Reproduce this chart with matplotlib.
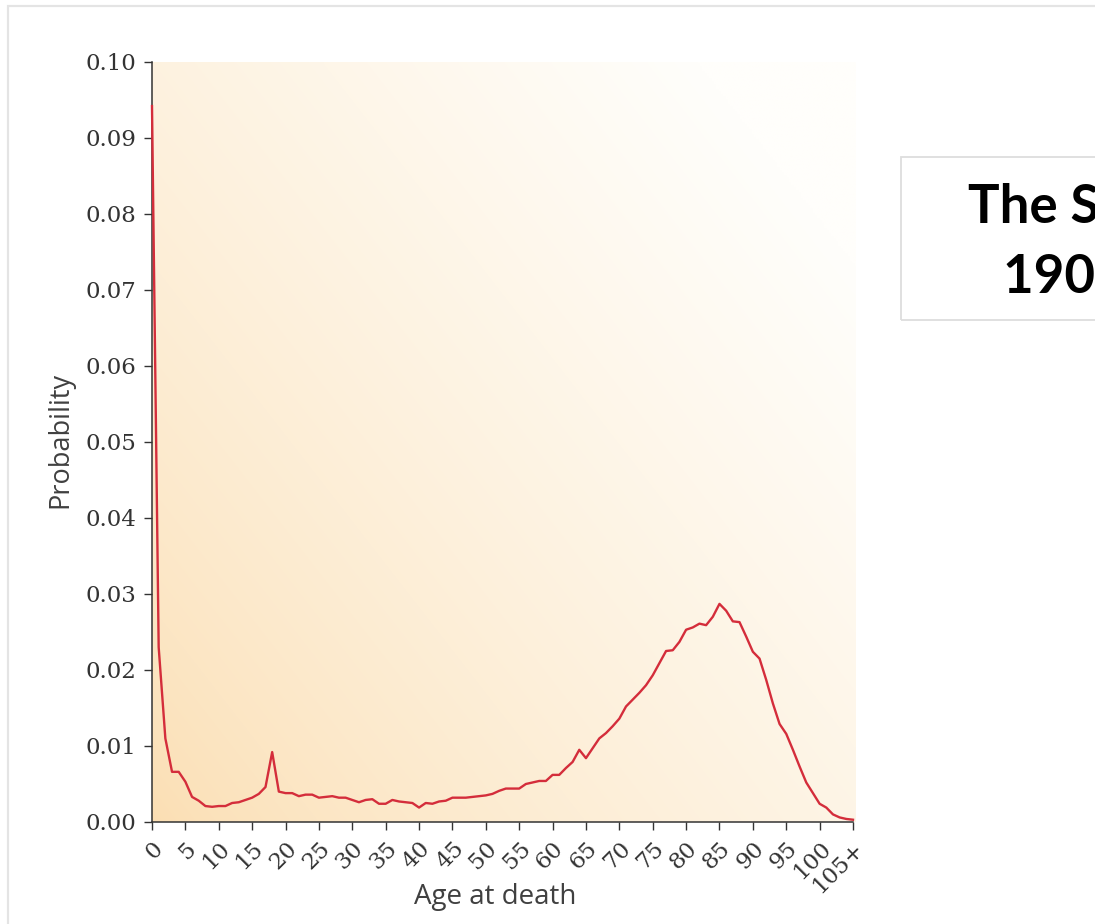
import numpy as np
import matplotlib
matplotlib.use("Agg")
import matplotlib.pyplot as plt
from matplotlib.patches import Rectangle

# ---- data ----
ages = list(range(0, 106))
probability = [
    0.0942, 0.0230, 0.0110, 0.0066, 0.0066, 0.0053, 0.0033, 0.0028, 0.0021, 0.0020,
    0.0021, 0.0021, 0.0025, 0.0026, 0.0029, 0.0032, 0.0037, 0.0046, 0.0092, 0.0040,
    0.0038, 0.0038, 0.0034, 0.0036, 0.0036, 0.0032, 0.0033, 0.0034, 0.0032, 0.0032,
    0.0029, 0.0026, 0.0029, 0.0030, 0.0024, 0.0024, 0.0029, 0.0027, 0.0026, 0.0025,
    0.0019, 0.0025, 0.0024, 0.0027, 0.0028, 0.0032, 0.0032, 0.0032, 0.0033, 0.0034,
    0.0035, 0.0037, 0.0041, 0.0044, 0.0044, 0.0044, 0.0050, 0.0052, 0.0054, 0.0054,
    0.0062, 0.0062, 0.0071, 0.0079, 0.0095, 0.0084, 0.0097, 0.0110, 0.0117, 0.0126,
    0.0136, 0.0152, 0.0161, 0.0170, 0.0180, 0.0193, 0.0209, 0.0225, 0.0226, 0.0237,
    0.0253, 0.0256, 0.0261, 0.0259, 0.0270, 0.0287, 0.0278, 0.0264, 0.0263, 0.0244,
    0.0224, 0.0215, 0.0187, 0.0156, 0.0129, 0.0116, 0.0095, 0.0073, 0.0052, 0.0038,
    0.0024, 0.0019, 0.0010, 0.0006, 0.0004, 0.0003,
]
x_ticks = list(range(0, 106, 5))
x_tick_labels = [str(v) for v in range(0, 105, 5)] + ["105+"]
y_ticks = [0.00, 0.01, 0.02, 0.03, 0.04, 0.05, 0.06, 0.07, 0.08, 0.09, 0.10]
y_tick_labels = ["%.2f" % v for v in y_ticks]
box_line1 = "The Starting Point"
box_line2 = "1900 United States"

W, H = 1095, 924
fig = plt.figure(figsize=(W / 100, H / 100), dpi=100)
fig.patch.set_facecolor("white")

def fx(px):
    return px / W

def fy(py):
    return 1 - py / H

# outer frame
fig.patches.append(Rectangle((fx(8), fy(1000)), fx(1200), (1000 - 6) / H,
                             transform=fig.transFigure, fill=False,
                             edgecolor="#e4e4e4", linewidth=1.6, zorder=0))

ax_l, ax_r, ax_t, ax_b = 152, 853, 62, 822
ax = fig.add_axes([fx(ax_l), fy(ax_b), (ax_r - ax_l) / W, (ax_b - ax_t) / H])

# gradient background
n = 300
gx, gy = np.meshgrid(np.linspace(0, 1, n), np.linspace(0, 1, n))
t = np.clip(0.62 * gx + 0.52 * gy, 0, 1) ** 0.72
c0 = np.array([251, 222, 178]) / 255.0
c1 = np.array([255, 254, 251]) / 255.0
img = c0[None, None, :] * (1 - t[..., None]) + c1[None, None, :] * t[..., None]
ax.imshow(img, extent=[0, 105.3, 0, 0.1], origin="lower", aspect="auto",
          zorder=0, interpolation="bilinear", clip_on=False)
ax.set_xlim(0, 105)
ax.set_ylim(0, 0.10)

ax.plot(ages, probability, color="#d42d3b", linewidth=1.7, zorder=3, clip_on=False)

for s in ["top", "right"]:
    ax.spines[s].set_visible(False)
for s in ["left", "bottom"]:
    ax.spines[s].set_color("#333333")
    ax.spines[s].set_linewidth(1.1)

tick_font = dict(family="DejaVu Serif", size=16.5, color="#333333")
ax.set_yticks(y_ticks)
ax.set_yticklabels(y_tick_labels, **tick_font)
ax.set_xticks(x_ticks)
ax.set_xticklabels(x_tick_labels, rotation=45, ha="right", va="top",
                   rotation_mode="anchor", **tick_font)
ax.tick_params(axis="both", direction="out", length=6, width=1, color="#333333")
ax.tick_params(axis="y", pad=5)
ax.tick_params(axis="x", pad=5)

fig.text(fx(495), fy(897), "Age at death", ha="center", va="center",
         family="Open Sans", fontsize=20, color="#404040")
fig.text(fx(60), fy(440), "Probability", ha="center", va="center", rotation=90,
         family="Open Sans", fontsize=19.5, color="#404040")

# right-hand text box
fig.patches.append(Rectangle((fx(901), fy(320)), fx(400), (320 - 157) / H,
                             transform=fig.transFigure, fill=False,
                             edgecolor="#dddddd", linewidth=1.3, zorder=1))
fig.text(fx(968), fy(222), box_line1, ha="left", va="baseline",
         family="Lato", fontweight="bold", fontsize=38, color="black")
fig.text(fx(1003), fy(293), box_line2, ha="left", va="baseline",
         family="Lato", fontweight="bold", fontsize=38, color="black")

fig.savefig("out.png", dpi=100)
